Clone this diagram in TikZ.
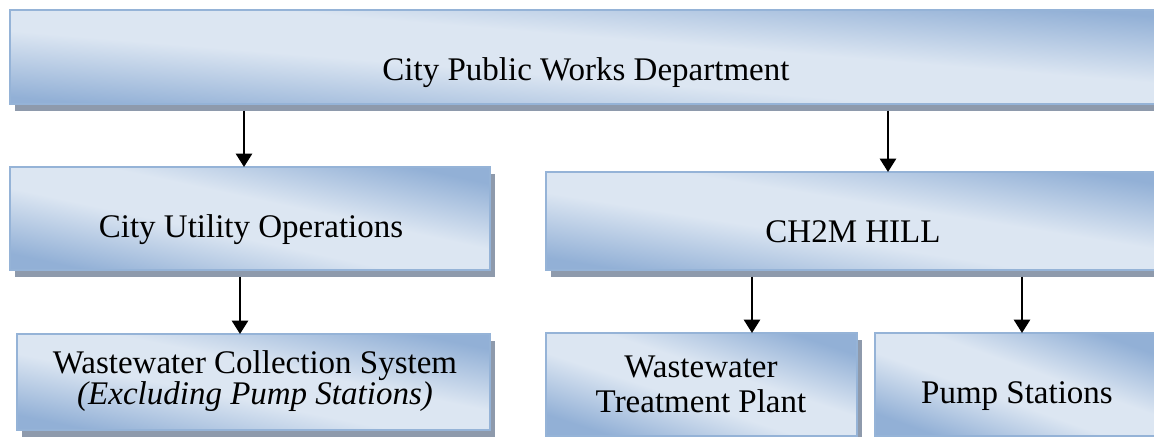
\documentclass[tikz,border=0pt]{standalone}
\usepackage{fontspec}
\setmainfont{Liberation Serif}
\usetikzlibrary{
  arrows.meta, % for the triangle tips
  shadows}
\definecolor{boxline}{RGB}{149,179,215}
\definecolor{boxdark}{RGB}{146,176,214}
\definecolor{boxlight}{RGB}{220,230,242}
\definecolor{boxshadow}{RGB}{142,154,172}
% dark at two corners, light along the other diagonal
\pgfdeclarehorizontalshading{boxgrad}{100bp}{color(0bp)=(boxdark); color(25bp)=(boxdark);
  color(44bp)=(boxlight); color(56bp)=(boxlight); color(75bp)=(boxdark); color(100bp)=(boxdark)}
\tikzstyle{orgbox} = [draw=boxline, line width=1.2pt, shading=boxgrad,
  anchor=north west, inner sep=0pt, outer sep=0pt,
  drop shadow={shadow xshift=3.75pt, shadow yshift=-5pt, fill=boxshadow, opacity=1}]
\tikzstyle{orgtext} = [inner sep=0pt, align=center, font=\fontsize{24.75pt}{29pt}\selectfont]
\tikzstyle{flow} = [->, line width=1.9pt, shorten <=5pt]

\begin{document}
\begin{tikzpicture}[ x=0.75pt, y=-0.75pt, >={Triangle[width=12pt,length=10pt]} ]

\path[use as bounding box] (0,0) rectangle (1154,436);
\clip (0,0) rectangle (1154,436);

% boxes (shading angle = atan(width/height))
\node[orgbox, minimum width=1152*0.75pt, minimum height=94*0.75pt, shading angle=85.3] (cpw) at (10,10) {};
\node[orgbox, minimum width=480*0.75pt, minimum height=103*0.75pt, shading angle=77.9] (cuo) at (10,167) {};
\node[orgbox, minimum width=614*0.75pt, minimum height=98*0.75pt, shading angle=80.9] (ch2m) at (546,172) {};
\node[orgbox, minimum width=473*0.75pt, minimum height=96*0.75pt, shading angle=78.5] (wcs) at (17,334) {};
\node[orgbox, minimum width=311*0.75pt, minimum height=103*0.75pt, shading angle=71.7] (wtp) at (546,333) {};
\node[orgbox, minimum width=285*0.75pt, minimum height=103*0.75pt, shading angle=70.1] (pump) at (875,333) {};

% texts
\node[orgtext, anchor=base] (cpw-t) at (586,80) {City Public Works Department};
\node[orgtext, anchor=base] (cuo-t) at (251,237) {City Utility Operations};
\node[orgtext, anchor=base] (ch2m-t) at (853,242) {CH2M HILL};
\node[orgtext, font=\fontsize{24.75pt}{21.75pt}\selectfont] (wcs-t) at (255,381)
  {Wastewater Collection System\\ \textit{(Excluding Pump Stations)}};
\node[orgtext, font=\fontsize{24.75pt}{26.25pt}\selectfont] (wtp-t) at (701,384)
  {Wastewater\\ Treatment Plant};
\node[orgtext, anchor=base] (pump-t) at (1017,403) {Pump Stations};

% arrows
\coordinate (a1) at (244,0);
\coordinate (a2) at (888,0);
\coordinate (a3) at (240,0);
\coordinate (a4) at (752,0);
\coordinate (a5) at (1022,0);
\draw[flow] (cpw.south -| a1) -- (cuo.north -| a1);
\draw[flow] (cpw.south -| a2) -- (ch2m.north -| a2);
\draw[flow] (cuo.south -| a3) -- (wcs.north -| a3);
\draw[flow] (ch2m.south -| a4) -- (wtp.north -| a4);
\draw[flow] (ch2m.south -| a5) -- (pump.north -| a5);

\end{tikzpicture}
\end{document}
